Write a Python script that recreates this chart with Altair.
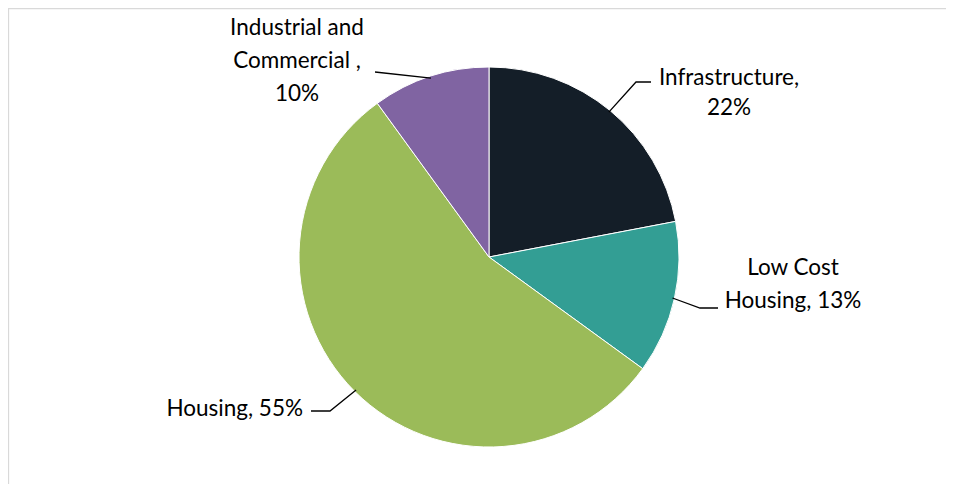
import math
import altair as alt
import pandas as pd

# ---- data ----
categories = ["Infrastructure", "Low Cost Housing", "Housing", "Industrial and Commercial"]
shares = [22, 13, 55, 10]
label_texts = ["Infrastructure,\n22%", "Low Cost\nHousing, 13%", "Housing, 55%",
               "Industrial and\nCommercial ,\n10%"]
colors = ["#141E28", "#339E94", "#9BBB59", "#8064A2"]

# ---- layout (pixels in plot area) ----
W, H = 938, 476
CX, CY, R = 481, 249, 190
FONT = "Lato"
FS = 22.5
# label anchor (center x, first-line y, align, line height) and leader elbow/end points
label_layout = {
    "Infrastructure": dict(x=721, y=70, align="center", lh=30, elbow=(628, 74), end=(643, 74)),
    "Low Cost Housing": dict(x=785, y=260, align="center", lh=33, elbow=(692, 300), end=(710, 300)),
    "Housing": dict(x=295, y=401, align="right", lh=33, elbow=(322, 403), end=(303, 403)),
    "Industrial and Commercial": dict(x=289, y=20, align="center", lh=33, elbow=(367, 64), end=(367, 64)),
}

df = pd.DataFrame({"cat": categories, "share": shares, "order": list(range(len(categories)))})

pie = alt.Chart(df).mark_arc(outerRadius=R, stroke="white", strokeWidth=1).encode(
    theta=alt.Theta("share:Q", stack=True),
    color=alt.Color("cat:N", scale=alt.Scale(domain=categories, range=colors), legend=None),
    order=alt.Order("order:Q"),
    x=alt.value(CX),
    y=alt.value(CY),
)

# chart frame: only left and top edges fall inside the window
frame_left = alt.Chart(pd.DataFrame({"k": [0]})).mark_rule(color="#D9D9D9", strokeWidth=1.3).encode(
    x=alt.value(0.5), y=alt.value(0), y2=alt.value(H))
frame_top = alt.Chart(pd.DataFrame({"k": [0]})).mark_rule(color="#D9D9D9", strokeWidth=1.3).encode(
    x=alt.value(0), x2=alt.value(W), y=alt.value(0.5))

layers = [frame_left, frame_top, pie]
total = sum(shares)
cum = 0
for cat, share, txt in zip(categories, shares, label_texts):
    mid = (cum + share / 2) / total * 2 * math.pi
    cum += share
    lay = label_layout[cat]
    sx = CX + (R - 2) * math.sin(mid)
    sy = CY - (R - 2) * math.cos(mid)
    pts = pd.DataFrame({
        "px": [sx, lay["elbow"][0], lay["end"][0]],
        "py": [sy, lay["elbow"][1], lay["end"][1]],
        "i": [0, 1, 2],
    })
    leader = alt.Chart(pts).mark_line(color="black", strokeWidth=1.3).encode(
        x=alt.X("px:Q", scale=None, axis=None),
        y=alt.Y("py:Q", scale=None, axis=None),
        order="i:Q",
    )
    tdf = pd.DataFrame({"t": [txt]})
    label = alt.Chart(tdf).mark_text(
        font=FONT, fontSize=FS, lineHeight=lay["lh"], lineBreak="\n", color="black",
        align=lay["align"], baseline="middle",
    ).encode(text="t:N", x=alt.value(lay["x"]), y=alt.value(lay["y"]))
    layers += [leader, label]

chart = alt.layer(*layers).properties(
    width=W, height=H, padding=0, autosize=alt.AutoSizeParams(type="none"),
    background="white",
).configure_view(stroke=None, strokeWidth=0, strokeOpacity=0)

chart.save("out.html", embed_options={"renderer": "svg", "actions": False})
